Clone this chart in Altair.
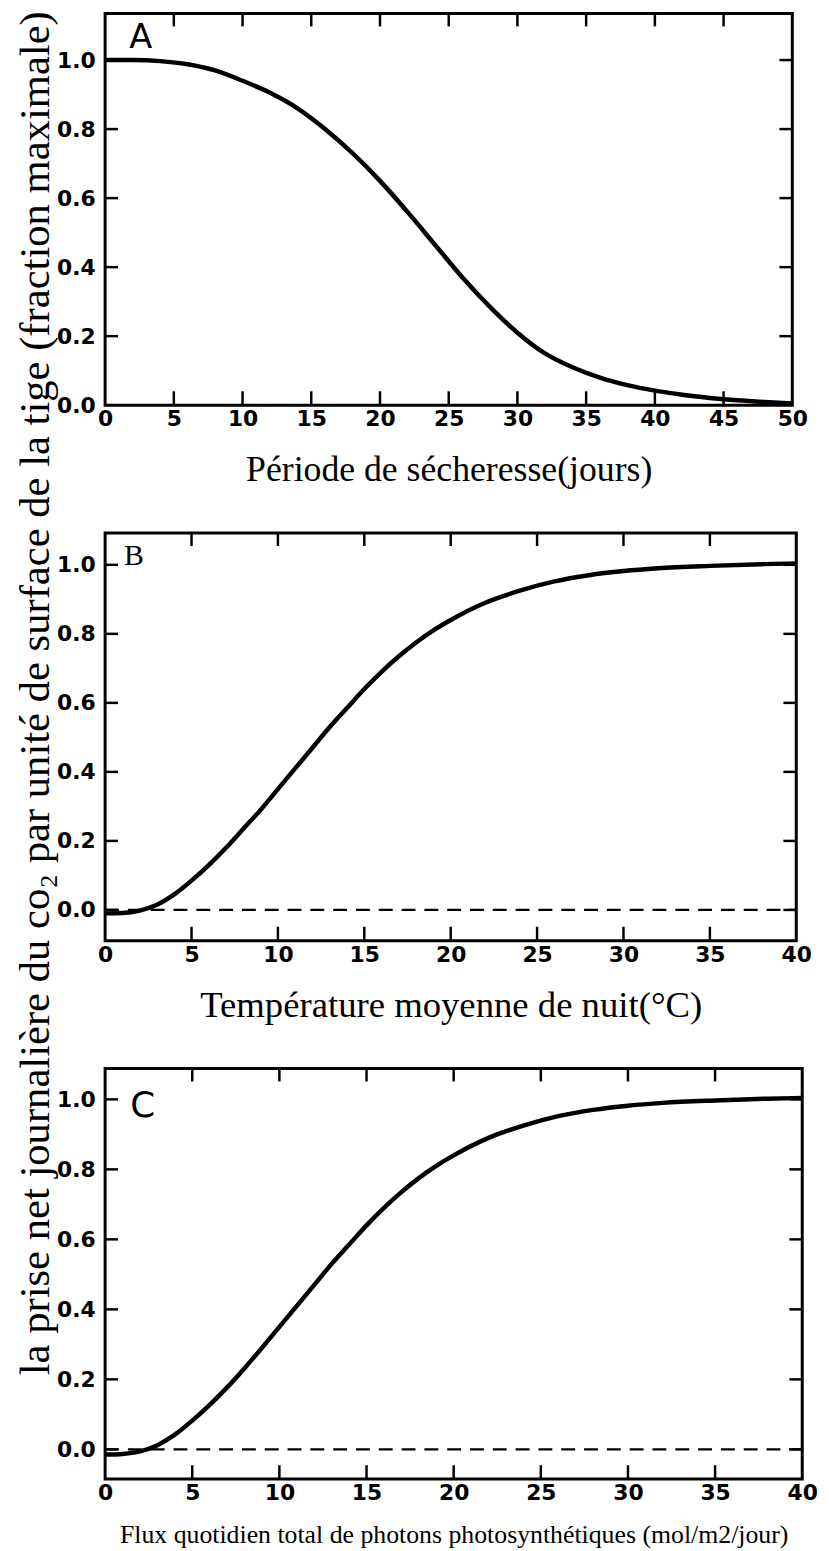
import altair as alt
import pandas as pd

# Panel A: drought period (days) vs relative CO2 uptake
drought_days = [0, 2, 4, 6, 8, 10, 12, 14, 16, 18, 20, 22, 24, 26, 28, 30,
                32, 34, 36, 38, 40, 42, 44, 46, 48, 50]
drought_uptake = [1.0, 1.0, 0.997, 0.988, 0.97, 0.94, 0.905, 0.86, 0.80, 0.73,
                  0.65, 0.56, 0.465, 0.37, 0.285, 0.21, 0.15, 0.11, 0.08,
                  0.058, 0.042, 0.03, 0.021, 0.014, 0.009, 0.005]

# Panel B: mean night temperature (°C) vs relative CO2 uptake
night_temp = [0, 1, 2, 3, 4, 5, 6, 7, 8, 9, 10, 11, 12, 13, 14, 15, 16, 17,
              18, 19, 20, 22, 24, 26, 28, 30, 32, 35, 38, 40]
temp_uptake = [-0.01, -0.009, -0.002, 0.015, 0.045, 0.085, 0.13, 0.18, 0.235,
               0.29, 0.35, 0.41, 0.47, 0.53, 0.585, 0.64, 0.69, 0.735, 0.775,
               0.81, 0.84, 0.89, 0.925, 0.952, 0.97, 0.982, 0.99, 0.997,
               1.002, 1.004]

# Panel C: total daily photosynthetic photon flux vs relative CO2 uptake
photon_flux = [0, 1, 2, 3, 4, 5, 6, 7, 8, 9, 10, 11, 12, 13, 14, 15, 16, 17,
               18, 19, 20, 22, 24, 26, 28, 30, 32, 35, 38, 40]
flux_uptake = [-0.015, -0.013, -0.006, 0.012, 0.042, 0.082, 0.127, 0.177,
               0.232, 0.29, 0.35, 0.41, 0.47, 0.53, 0.585, 0.64, 0.69, 0.735,
               0.775, 0.81, 0.84, 0.89, 0.925, 0.952, 0.97, 0.982, 0.99,
               0.997, 1.002, 1.004]

a_xlabels = [0, 5, 10, 15, 20, 25, 30, 35, 40, 45, 50]
a_xticks = [5, 10, 15, 20, 25, 30, 35, 40, 45]
a_yticks = [0.2, 0.4, 0.6, 0.8, 1.0]
bc_xlabels = [0, 5, 10, 15, 20, 25, 30, 35, 40]
bc_xticks = [5, 10, 15, 20, 25, 30, 35]
bc_yticks = [0.0, 0.2, 0.4, 0.6, 0.8, 1.0]
y_labels = [0.0, 0.2, 0.4, 0.6, 0.8, 1.0]

y_title = ("la prise net journalière du co\u2082 par unité de surface "
           "de la tige (fraction maximale)")

LABEL_FONT = "DejaVu Sans"
SERIF = "Liberation Serif"


def panel(xs, ys, xdom, ydom, xlabels, xticks, yticks, w, h,
          xtitle, xtitle_size, xtitle_pad, letter, letter_font, letter_size,
          letter_pos, dashed=False, ytitle_axis=None):
    df = pd.DataFrame({"x": xs, "y": ys})
    xscale = alt.Scale(domain=xdom, nice=False, zero=False)
    yscale = alt.Scale(domain=ydom, nice=False, zero=False)
    xaxis = alt.Axis(values=xlabels, format="d", ticks=False, domain=False,
                     grid=False, labelFont=LABEL_FONT, labelFontSize=22,
                     labelFontWeight="bold", labelColor="black",
                     labelPadding=4, labelFlush=False, labelOverlap=False,
                     title=xtitle, titleFont=SERIF, titleFontSize=xtitle_size,
                     titleFontWeight="normal", titleColor="black",
                     titlePadding=xtitle_pad)
    yaxis_kw = dict(values=y_labels, format=".1f", ticks=False, domain=False,
                    grid=False, labelFont=LABEL_FONT, labelFontSize=22,
                    labelFontWeight="bold", labelColor="black",
                    labelPadding=10, labelFlush=False, labelOverlap=False)
    if ytitle_axis is not None:
        yaxis_kw.update(ytitle_axis)
        yaxis = alt.Axis(**yaxis_kw)
    else:
        yaxis = alt.Axis(title=None, **yaxis_kw)

    curve = alt.Chart(df).mark_line(
        color="black", strokeWidth=4.5, interpolate="monotone"
    ).encode(
        x=alt.X("x:Q", scale=xscale, axis=xaxis),
        y=alt.Y("y:Q", scale=yscale, axis=yaxis),
    )
    layers = []
    if dashed:
        zero = alt.Chart(pd.DataFrame({"y": [0.0]})).mark_rule(
            color="black", strokeWidth=2.2, strokeDash=[14, 9]
        ).encode(y="y:Q", x=alt.value(0), x2=alt.value(w))
        layers.append(zero)
    layers.append(curve)

    xt = pd.DataFrame({"x": xticks})
    yt = pd.DataFrame({"y": yticks})
    tick = dict(color="black", strokeWidth=2.5)
    layers += [
        alt.Chart(xt).mark_rule(**tick).encode(
            x="x:Q", y=alt.value(h), y2=alt.value(h - 14)),
        alt.Chart(xt).mark_rule(**tick).encode(
            x="x:Q", y=alt.value(0), y2=alt.value(13)),
        alt.Chart(yt).mark_rule(**tick).encode(
            y="y:Q", x=alt.value(0), x2=alt.value(13)),
        alt.Chart(yt).mark_rule(**tick).encode(
            y="y:Q", x=alt.value(w), x2=alt.value(w - 13)),
        alt.Chart(pd.DataFrame({"t": [letter]})).mark_text(
            font=letter_font, fontSize=letter_size, color="black",
            align="center", baseline="middle"
        ).encode(text="t:N", x=alt.value(letter_pos[0]),
                 y=alt.value(letter_pos[1])),
    ]
    return alt.layer(*layers).properties(width=w, height=h)


panel_a = panel(drought_days, drought_uptake, [0, 50], [0, 1.135],
                a_xlabels, a_xticks, a_yticks, 693, 395,
                "Période de sécheresse(jours)", 36, 23,
                "A", LABEL_FONT, 34, (36, 25))

panel_b = panel(night_temp, temp_uptake, [0, 40], [-0.089, 1.092],
                bc_xlabels, bc_xticks, bc_yticks, 697, 411,
                "Température moyenne de nuit(°C)", 37, 22,
                "B", SERIF, 30, (29, 23), dashed=True,
                ytitle_axis=dict(title=y_title, titleFont=SERIF,
                                 titleFontSize=43, titleFontWeight="normal",
                                 titleColor="black", titleAngle=270,
                                 titleAlign="center", titleBaseline="middle",
                                 titleX=-70, titleY=161))

panel_c = panel(photon_flux, flux_uptake, [0, 40], [-0.085, 1.088],
                bc_xlabels, bc_xticks, bc_yticks, 703, 414,
                "Flux quotidien total de photons photosynthétiques (mol/m2/jour)",
                26, 18, "C", LABEL_FONT, 36, (38, 38), dashed=True)

chart = alt.vconcat(panel_a, panel_b, panel_c, spacing=129,
                    bounds="flush").properties(
    padding={"left": 13, "top": 2, "right": 10, "bottom": 5}
).configure_view(stroke="black", strokeWidth=3)

chart.save("out.html", embed_options={"renderer": "svg", "actions": False})
